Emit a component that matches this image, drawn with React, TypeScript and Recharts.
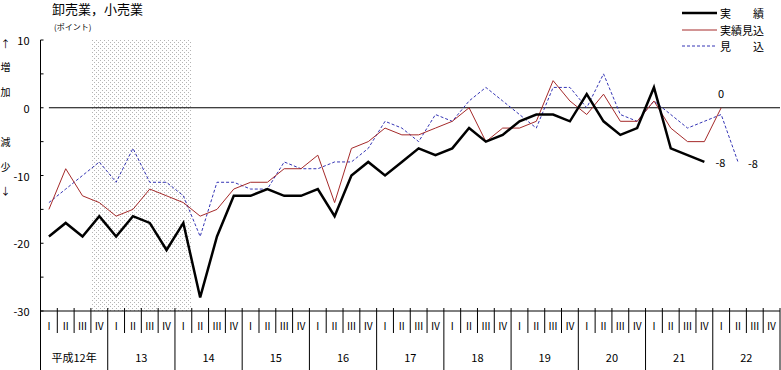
import React from 'react'
import { LineChart, Line, XAxis, YAxis, ReferenceLine, ReferenceArea } from 'recharts'

const QUARTER_LABELS = ['Ⅰ', 'Ⅱ', 'Ⅲ', 'Ⅳ']
const YEAR_LABELS = ['平成12年', '13', '14', '15', '16', '17', '18', '19', '20', '21', '22']

// 実績 (12年Ⅰ〜21年Ⅳ)
const JISSEKI = [
  -19, -17, -19, -16, -19, -16, -17, -21, -17, -28, -19, -13, -13, -12, -13, -13, -12, -16, -10, -8,
  -10, -8, -6, -7, -6, -3, -5, -4, -2, -1, -1, -2, 2, -2, -4, -3, 3, -6, -7, -8,
]
// 実績見込 (12年Ⅰ〜22年Ⅰ)
const JISSEKI_MIKOMI = [
  -15, -9, -13, -14, -16, -15, -12, -13, -14, -16, -15, -12, -11, -11, -9, -9, -7, -14, -6, -5,
  -3, -4, -4, -3, -2, 0, -5, -3, -3, -2, 4, 1, -1, 2, -2, -2, 1, -3, -5, -5, 0,
]
// 見込 (12年Ⅰ〜22年Ⅱ)
const MIKOMI = [
  -14, -12, -10, -8, -11, -6, -11, -11, -13, -19, -11, -11, -12, -12, -8, -9, -9, -8, -8, -6,
  -2, -3, -5, -1, -2, 1, 3, 1, -1, -3, 3, 3, 0, 5, -1, -2, 1, -1, -3, -2, -1, -8,
]

const Y_TICKS = [-30, -25, -20, -15, -10, -5, 0, 5, 10]

const FONT = "'Noto Sans CJK JP', sans-serif"
const N = YEAR_LABELS.length * 4

const data = Array.from({ length: N }, (_, i) => ({
  x: i + 0.5,
  jisseki: JISSEKI[i],
  jissekiMikomi: JISSEKI_MIKOMI[i],
  mikomi: MIKOMI[i],
}))

const xTicks: number[] = []
for (let k = 0; k <= N * 2; k++) xTicks.push(k / 2)

const XTick = (props: any) => {
  const { x, y, payload } = props
  const v = payload.value
  if (Number.isInteger(v)) {
    const edge = v % 4 === 0
    return (
      <g>
        <line x1={x} x2={x} y1={y - 3} y2={edge ? y + 59 : y + 22} stroke="#000" />
        {v % 4 === 2 && (
          <text x={x} y={y + 46} textAnchor="middle" dominantBaseline="central" fontSize={11} fontFamily={FONT} fill="#000">
            {YEAR_LABELS[(v - 2) / 4]}
          </text>
        )}
      </g>
    )
  }
  return (
    <text x={x} y={y + 14} textAnchor="middle" dominantBaseline="central" fontSize={10} fontFamily={FONT} fill="#000">
      {QUARTER_LABELS[Math.floor(v) % 4]}
    </text>
  )
}

const YTick = (props: any) => {
  const { x, y, payload } = props
  const v = payload.value
  return (
    <g>
      <line x1={x} x2={x + 3} y1={y} y2={y} stroke="#000" />
      {v % 10 === 0 && (
        <text x={x - 11} y={y} textAnchor="end" dominantBaseline="central" fontSize={11} fontFamily={FONT} fill="#000">
          {v}
        </text>
      )}
    </g>
  )
}

const endLabel = (idx: number, dx: number, dy: number) => (props: any) => {
  const { x, y, index, value } = props
  if (index !== idx) return null
  return (
    <text x={x + dx} y={y + dy} textAnchor="middle" dominantBaseline="central" fontSize={11} fontFamily={FONT} fill="#000">
      {value}
    </text>
  )
}

const sideText = (s: string, top: number) => (
  <div key={s + top} style={{ position: 'absolute', left: 0, top: top - 7, width: 11, textAlign: 'center', fontSize: 10, lineHeight: '14px' }}>
    {s}
  </div>
)

const legendRow = (label: string, top: number, color: string, width: number, dash?: string) => (
  <div style={{ position: 'absolute', left: 682, top: top - 7, height: 14, display: 'flex', alignItems: 'center' }}>
    <svg width={36} height={6}>
      <line x1={0} x2={35} y1={3} y2={3} stroke={color} strokeWidth={width} strokeDasharray={dash} />
    </svg>
    <span style={{ marginLeft: 2, fontSize: 11, lineHeight: '14px', whiteSpace: 'pre' }}>{label}</span>
  </div>
)

export default function App() {
  return (
    <div style={{ position: 'absolute', left: 0, top: 0, width: 781, height: 370, background: '#fff', fontFamily: FONT, color: '#000' }}>
      <div style={{ position: 'absolute', left: 52, top: 2, fontSize: 13, lineHeight: '14px', whiteSpace: 'nowrap' }}>卸売業，小売業</div>
      <div style={{ position: 'absolute', left: 54, top: 21, fontSize: 8, lineHeight: '12px' }}>(ポイント)</div>
      {sideText('↑', 44)}
      {sideText('増', 67)}
      {sideText('加', 92)}
      {sideText('減', 142)}
      {sideText('少', 167)}
      {sideText('↓', 191)}
      {legendRow('実　　績', 13, '#000', 2.5)}
      {legendRow('実績見込', 30, '#a52a2a', 1)}
      {legendRow('見　　込', 46, '#3535b5', 1, '3 2')}
      <LineChart width={781} height={370} data={data} margin={{ top: 40, right: 1, left: 0, bottom: 0 }}>
        <defs>
          <pattern id="dots" width={4} height={4} patternUnits="userSpaceOnUse">
            <rect x={0} y={0} width={1} height={1} fill="#b4b4b4" />
            <rect x={2} y={2} width={1} height={1} fill="#b4b4b4" />
          </pattern>
        </defs>
        <XAxis
          dataKey="x"
          type="number"
          domain={[0, N]}
          ticks={xTicks}
          interval={0}
          tick={<XTick />}
          tickLine={false}
          tickSize={0}
          tickMargin={0}
          height={59}
          axisLine={{ stroke: '#000' }}
        />
        <YAxis
          type="number"
          domain={[-30, 10]}
          ticks={Y_TICKS}
          interval={0}
          tick={<YTick />}
          tickLine={false}
          tickSize={0}
          tickMargin={0}
          width={40.5}
          axisLine={{ stroke: '#000' }}
        />
        <ReferenceArea x1={3} x2={9} y1={-30} y2={10} fill="url(#dots)" fillOpacity={1} stroke="none" />
        <ReferenceLine segment={[{ x: 0.5, y: 0 }, { x: N, y: 0 }]} stroke="#000" strokeWidth={1} />
        <Line
          dataKey="mikomi"
          stroke="#3535b5"
          strokeWidth={1}
          strokeDasharray="3 2"
          dot={false}
          isAnimationActive={false}
          label={endLabel(MIKOMI.length - 1, 15, 1)}
        />
        <Line
          dataKey="jissekiMikomi"
          stroke="#a52a2a"
          strokeWidth={1}
          dot={false}
          isAnimationActive={false}
          label={endLabel(JISSEKI_MIKOMI.length - 1, 0, -15)}
        />
        <Line
          dataKey="jisseki"
          stroke="#000"
          strokeWidth={2.5}
          dot={false}
          isAnimationActive={false}
          label={endLabel(JISSEKI.length - 1, 16, 0)}
        />
      </LineChart>
    </div>
  )
}
